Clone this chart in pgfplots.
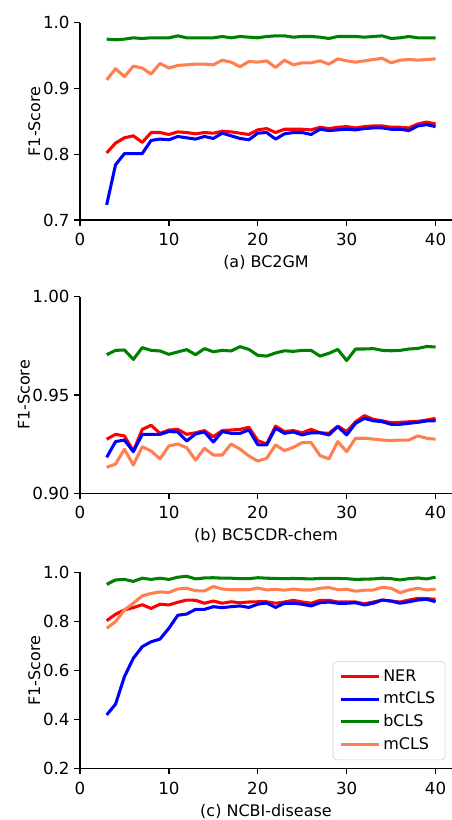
\documentclass[border=0pt]{standalone}
\usepackage{fontspec}
\setmainfont{DejaVu Sans}
\usepackage{pgfplots}
\pgfplotsset{compat=1.18}
\definecolor{cNER}{HTML}{FF0000}
\definecolor{cMT}{HTML}{0000FF}
\definecolor{cB}{HTML}{008000}
\definecolor{cM}{HTML}{FF7F50}

\pgfplotsset{
  f1ax/.style={
    scale only axis,
    width=267.84pt,
    xmin=0, xmax=41.85,
    axis lines*=left,
    axis line style={line width=0.9pt, black},
    tick align=outside,
    major tick length=4pt,
    every tick/.style={line width=0.9pt, black},
    xtick={0,10,20,30,40},
    font=\fontsize{11.5}{13.8}\selectfont,
    ticklabel style={font=\fontsize{12}{14}\selectfont},
    xticklabel style={yshift=-2pt},
    /pgf/number format/assume math mode=true,
    ylabel={F1-Score},
    ylabel style={yshift=-5pt},
    clip=false,
    every axis plot/.append style={line width=2.2pt, line join=round, mark=none},
  },
}

\begin{document}
\begin{tikzpicture}
\path[use as bounding box] (0,0) rectangle (325.44pt,-590.4pt);

% (a) BC2GM
\begin{axis}[f1ax,
  at={(57.6pt,-158.4pt)}, anchor=south west,
  height=142.06pt,
  ymin=0.7, ymax=1.0,
  ytick={0.7,0.8,0.9,1.0},
  yticklabel style={/pgf/number format/.cd, fixed, fixed zerofill, precision=1},
  xlabel={(a) BC2GM},
]
\addplot[color=cNER] coordinates {
 (3,0.802) (4,0.817) (5,0.825) (6,0.828) (7,0.818) (8,0.833) (9,0.833) (10,0.830)
 (11,0.834) (12,0.833) (13,0.831) (14,0.833) (15,0.832) (16,0.835) (17,0.834) (18,0.832)
 (19,0.830) (20,0.837) (21,0.839) (22,0.833) (23,0.838) (24,0.838) (25,0.838) (26,0.837)
 (27,0.841) (28,0.839) (29,0.841) (30,0.842) (31,0.840) (32,0.842) (33,0.843) (34,0.843)
 (35,0.841) (36,0.841) (37,0.840) (38,0.846) (39,0.849) (40,0.846)
};
\addplot[color=cMT] coordinates {
 (3,0.723) (4,0.784) (5,0.801) (6,0.801) (7,0.801) (8,0.821) (9,0.823) (10,0.822)
 (11,0.827) (12,0.825) (13,0.823) (14,0.827) (15,0.824) (16,0.832) (17,0.828) (18,0.824)
 (19,0.822) (20,0.832) (21,0.833) (22,0.823) (23,0.831) (24,0.833) (25,0.833) (26,0.830)
 (27,0.838) (28,0.836) (29,0.837) (30,0.838) (31,0.837) (32,0.839) (33,0.840) (34,0.840)
 (35,0.838) (36,0.838) (37,0.836) (38,0.843) (39,0.845) (40,0.842)
};
\addplot[color=cB] coordinates {
 (3,0.975) (4,0.974) (5,0.975) (6,0.977) (7,0.976) (8,0.977) (9,0.977) (10,0.977)
 (11,0.980) (12,0.977) (13,0.977) (14,0.977) (15,0.977) (16,0.979) (17,0.977) (18,0.979)
 (19,0.978) (20,0.977) (21,0.979) (22,0.980) (23,0.980) (24,0.978) (25,0.979) (26,0.979)
 (27,0.978) (28,0.976) (29,0.979) (30,0.979) (31,0.979) (32,0.978) (33,0.979) (34,0.980)
 (35,0.976) (36,0.977) (37,0.979) (38,0.977) (39,0.977) (40,0.977)
};
\addplot[color=cM] coordinates {
 (3,0.913) (4,0.930) (5,0.918) (6,0.934) (7,0.931) (8,0.922) (9,0.938) (10,0.931)
 (11,0.935) (12,0.936) (13,0.937) (14,0.937) (15,0.936) (16,0.943) (17,0.940) (18,0.933)
 (19,0.941) (20,0.940) (21,0.942) (22,0.932) (23,0.943) (24,0.936) (25,0.939) (26,0.939)
 (27,0.942) (28,0.937) (29,0.945) (30,0.942) (31,0.940) (32,0.942) (33,0.944) (34,0.946)
 (35,0.939) (36,0.943) (37,0.944) (38,0.943) (39,0.944) (40,0.945)
};
\end{axis}

% (b) BC5CDR-chem
\begin{axis}[f1ax,
  at={(57.6pt,-355.18pt)}, anchor=south west,
  height=141.55pt,
  ymin=0.90, ymax=1.00,
  ytick={0.90,0.95,1.00},
  yticklabel style={/pgf/number format/.cd, fixed, fixed zerofill, precision=2},
  xlabel={(b) BC5CDR-chem},
]
\addplot[color=cNER] coordinates {
 (3,0.9275) (4,0.9300) (5,0.9292) (6,0.9215) (7,0.9325) (8,0.9346) (9,0.9305) (10,0.9322)
 (11,0.9325) (12,0.9300) (13,0.9308) (14,0.9319) (15,0.9288) (16,0.9319) (17,0.9322) (18,0.9325)
 (19,0.9336) (20,0.9268) (21,0.9251) (22,0.9342) (23,0.9314) (24,0.9319) (25,0.9308) (26,0.9325)
 (27,0.9308) (28,0.9305) (29,0.9342) (30,0.9314) (31,0.9364) (32,0.9395) (33,0.9376) (34,0.9369)
 (35,0.9359) (36,0.9361) (37,0.9364) (38,0.9366) (39,0.9373) (40,0.9381)
};
\addplot[color=cMT] coordinates {
 (3,0.9183) (4,0.9263) (5,0.9271) (6,0.9212) (7,0.9300) (8,0.9300) (9,0.9300) (10,0.9314)
 (11,0.9312) (12,0.9266) (13,0.9302) (14,0.9312) (15,0.9261) (16,0.9314) (17,0.9305) (18,0.9305)
 (19,0.9322) (20,0.9247) (21,0.9246) (22,0.9331) (23,0.9305) (24,0.9312) (25,0.9297) (26,0.9308)
 (27,0.9308) (28,0.9297) (29,0.9339) (30,0.9297) (31,0.9356) (32,0.9381) (33,0.9369) (34,0.9364)
 (35,0.9351) (36,0.9351) (37,0.9356) (38,0.9361) (39,0.9368) (40,0.9369)
};
\addplot[color=cB] coordinates {
 (3,0.9705) (4,0.9727) (5,0.9729) (6,0.9681) (7,0.9741) (8,0.9727) (9,0.9724) (10,0.9707)
 (11,0.9719) (12,0.9731) (13,0.9705) (14,0.9736) (15,0.9720) (16,0.9727) (17,0.9724) (18,0.9746)
 (19,0.9732) (20,0.9702) (21,0.9698) (22,0.9714) (23,0.9725) (24,0.9722) (25,0.9727) (26,0.9727)
 (27,0.9698) (28,0.9712) (29,0.9732) (30,0.9675) (31,0.9734) (32,0.9734) (33,0.9736) (34,0.9727)
 (35,0.9725) (36,0.9727) (37,0.9734) (38,0.9737) (39,0.9747) (40,0.9744)
};
\addplot[color=cM] coordinates {
 (3,0.9132) (4,0.9149) (5,0.9224) (6,0.9144) (7,0.9237) (8,0.9215) (9,0.9175) (10,0.9241)
 (11,0.9251) (12,0.9232) (13,0.9169) (14,0.9229) (15,0.9195) (16,0.9195) (17,0.9251) (18,0.9225)
 (19,0.9190) (20,0.9164) (21,0.9178) (22,0.9246) (23,0.9217) (24,0.9234) (25,0.9258) (26,0.9258)
 (27,0.9192) (28,0.9175) (29,0.9263) (30,0.9212) (31,0.9280) (32,0.9280) (33,0.9276) (34,0.9271)
 (35,0.9268) (36,0.9271) (37,0.9271) (38,0.9292) (39,0.9280) (40,0.9275)
};
\end{axis}

% (c) NCBI-disease
\begin{axis}[f1ax,
  at={(57.6pt,-553.46pt)}, anchor=south west,
  height=141.41pt,
  ymin=0.2, ymax=1.0,
  ytick={0.2,0.4,0.6,0.8,1.0},
  yticklabel style={/pgf/number format/.cd, fixed, fixed zerofill, precision=1},
  xlabel={(c) NCBI-disease},
  legend style={at={(0.982,0.044)}, anchor=south east,
    draw=black!20, rounded corners=2.5pt, fill=white, fill opacity=0.8, text opacity=1,
    font=\fontsize{11.5}{13.8}\selectfont,
    row sep=2.2pt, inner xsep=5pt, inner ysep=4pt},
  legend cell align=left,
  legend image code/.code={\draw[#1] (0pt,0pt) -- (27pt,0pt);},
]
\addplot[color=cNER] coordinates {
 (3,0.803) (4,0.829) (5,0.847) (6,0.856) (7,0.868) (8,0.853) (9,0.870) (10,0.867)
 (11,0.878) (12,0.887) (13,0.886) (14,0.874) (15,0.883) (16,0.874) (17,0.880) (18,0.876)
 (19,0.879) (20,0.880) (21,0.880) (22,0.874) (23,0.879) (24,0.886) (25,0.879) (26,0.874)
 (27,0.886) (28,0.886) (29,0.879) (30,0.879) (31,0.879) (32,0.872) (33,0.879) (34,0.887)
 (35,0.883) (36,0.879) (37,0.887) (38,0.894) (39,0.893) (40,0.890)
};
\addlegendentry{NER}
\addplot[color=cMT] coordinates {
 (3,0.419) (4,0.463) (5,0.575) (6,0.650) (7,0.697) (8,0.717) (9,0.728) (10,0.772)
 (11,0.825) (12,0.830) (13,0.849) (14,0.849) (15,0.860) (16,0.856) (17,0.860) (18,0.863)
 (19,0.857) (20,0.870) (21,0.875) (22,0.857) (23,0.874) (24,0.874) (25,0.870) (26,0.863)
 (27,0.876) (28,0.879) (29,0.874) (30,0.874) (31,0.876) (32,0.867) (33,0.874) (34,0.887)
 (35,0.883) (36,0.874) (37,0.880) (38,0.887) (39,0.890) (40,0.880)
};
\addlegendentry{mtCLS}
\addplot[color=cB] coordinates {
 (3,0.951) (4,0.969) (5,0.971) (6,0.963) (7,0.976) (8,0.971) (9,0.976) (10,0.971)
 (11,0.980) (12,0.984) (13,0.973) (14,0.977) (15,0.978) (16,0.976) (17,0.976) (18,0.974)
 (19,0.974) (20,0.978) (21,0.976) (22,0.975) (23,0.974) (24,0.975) (25,0.974) (26,0.973)
 (27,0.975) (28,0.975) (29,0.975) (30,0.974) (31,0.971) (32,0.972) (33,0.973) (34,0.976)
 (35,0.974) (36,0.969) (37,0.974) (38,0.977) (39,0.973) (40,0.980)
};
\addlegendentry{bCLS}
\addplot[color=cM] coordinates {
 (3,0.772) (4,0.799) (5,0.847) (6,0.874) (7,0.904) (8,0.914) (9,0.920) (10,0.918)
 (11,0.932) (12,0.935) (13,0.925) (14,0.924) (15,0.942) (16,0.932) (17,0.929) (18,0.929)
 (19,0.929) (20,0.936) (21,0.928) (22,0.931) (23,0.927) (24,0.932) (25,0.928) (26,0.928)
 (27,0.935) (28,0.938) (29,0.929) (30,0.931) (31,0.923) (32,0.927) (33,0.928) (34,0.939)
 (35,0.935) (36,0.917) (37,0.928) (38,0.935) (39,0.928) (40,0.931)
};
\addlegendentry{mCLS}
\end{axis}
\end{tikzpicture}
\end{document}
